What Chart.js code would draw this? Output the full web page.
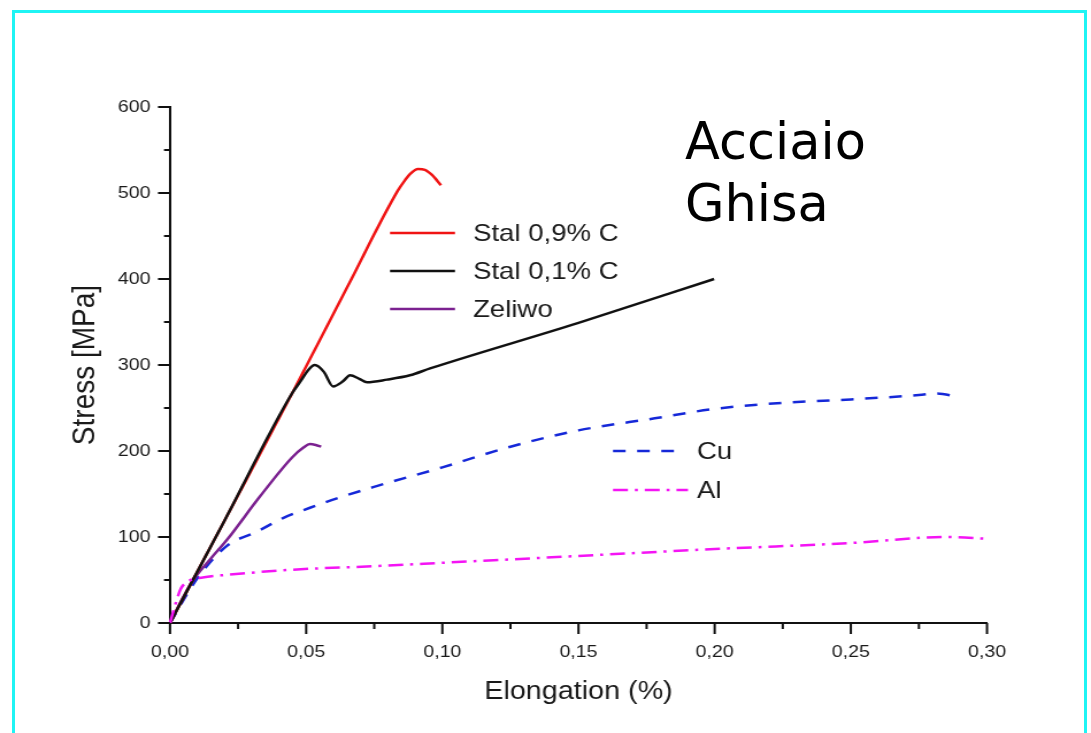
<!DOCTYPE html>
<html>
<head>
<meta charset="utf-8">
<script src="https://cdn.jsdelivr.net/npm/chart.js@4.4.1/dist/chart.umd.min.js"></script>
<style>
html, body { margin: 0; padding: 0; background: #fff; overflow: hidden; }
#wrap { position: relative; width: 1091px; height: 733px; }
#grafico { position: absolute; left: 0; top: 0; width: 1091px; height: 733px; }
#ramka { position: absolute; left: 12px; top: 10px; width: 1069px; height: 800px; border: 3px solid #1ff4f4; border-bottom: none; }
#napis { position: absolute; left: 685px; top: 111px; font-family: "DejaVu Sans"; font-size: 51px; line-height: 62px; color: #000; }
</style>
</head>
<body>
<div id="wrap">
  <canvas id="grafico" width="949" height="733" style="width:1091px;height:733px"></canvas>
  <div id="ramka"></div>
  <div id="napis">Acciaio<br>Ghisa</div>
</div>
<script>
// the scan is stretched sideways, so the canvas is drawn narrower and widened by css
var SX = 1091 / 949;

// Stal 0,9% C
var stal09X = [0, 0.02, 0.045, 0.065, 0.0837, 0.0863, 0.0881, 0.0911, 0.0936, 0.0962, 0.0995];
var stal09Y = [0, 119, 268, 390, 503, 515, 522, 528, 527, 521, 509];
// Stal 0,1% C
var stal01X = [0, 0.02, 0.045, 0.0477, 0.0507, 0.0532, 0.0565, 0.0599, 0.0635, 0.0661, 0.0695, 0.0723, 0.0797, 0.0881, 0.0955, 0.15, 0.1998];
var stal01Y = [0, 119, 268, 280, 294, 300, 292, 275, 281, 288, 284, 280, 283, 288, 296, 349, 400];
// Zeliwo
var zeliwoX = [0, 0.005, 0.0085, 0.015, 0.021, 0.033, 0.045, 0.049, 0.0514, 0.0535, 0.0555];
var zeliwoY = [0, 31, 50, 75, 97, 147, 193, 204, 208, 207, 205];
// Cu
var cuX = [0, 0.01, 0.021, 0.0318, 0.0415, 0.0514, 0.0613, 0.0746, 0.1, 0.125, 0.15, 0.178, 0.2, 0.225, 0.25, 0.275, 0.2816, 0.2893];
var cuY = [0, 52, 90, 106, 122, 134, 145, 158, 181, 205, 224, 238, 249, 256, 260, 265, 267, 263];
// Al
var alX = [0, 0.002, 0.004, 0.007, 0.012, 0.021, 0.045, 0.0746, 0.1, 0.15, 0.2, 0.25, 0.285, 0.3];
var alY = [0, 22, 40, 49, 53, 56, 62, 66, 70, 78, 86, 93, 100, 98];

var nazwy = ['Stal 0,9% C', 'Stal 0,1% C', 'Zeliwo', 'Cu', 'Al'];

var xTicks = [0, 0.05, 0.10, 0.15, 0.20, 0.25, 0.30];
var xTickLabels = ['0,00', '0,05', '0,10', '0,15', '0,20', '0,25', '0,30'];
var yTicks = [0, 100, 200, 300, 400, 500, 600];
var yTickLabels = ['0', '100', '200', '300', '400', '500', '600'];

function punkty(xs, ys) {
    return xs.map(function (x, i) { return { x: x, y: ys[i] }; });
}

function etykieta(lista, napisy) {
    return function (v) {
        for (var i = 0; i < lista.length; i++) {
            if (Math.abs(lista[i] - v) < 1e-6) return napisy[i];
        }
        return '';
    };
}

// order: lower number is painted on top
function seria(label, xs, ys, kolor, dash, kolejnosc) {
    return {
        label: label,
        data: punkty(xs, ys),
        borderColor: kolor,
        borderWidth: 2.5,
        borderDash: dash,
        pointRadius: 0,
        fill: false,
        clip: false,
        order: kolejnosc,
        cubicInterpolationMode: 'monotone'
    };
}

// legend places, in page pixels
var legendaPoz = [
    { x1: 390, x2: 455, tx: 473, y: 233 },
    { x1: 390, x2: 455, tx: 473, y: 271 },
    { x1: 390, x2: 455, tx: 473, y: 309 },
    { x1: 613, x2: 678, tx: 697, y: 451 },
    { x1: 613, x2: 688, tx: 697, y: 490 }
];

var kreski = {
    id: 'kreski',
    afterDraw: function (chart) {
        var ctx = chart.ctx;
        var xs = chart.scales.x, ys = chart.scales.y;
        ctx.save();
        ctx.strokeStyle = '#111';
        ctx.lineWidth = 2;
        ctx.beginPath();
        xs.ticks.forEach(function (t) {
            var p = xs.getPixelForValue(t.value);
            var len = t.label !== '' ? 11 : 6;
            ctx.moveTo(p, xs.top);
            ctx.lineTo(p, xs.top + len);
        });
        ys.ticks.forEach(function (t) {
            var p = ys.getPixelForValue(t.value);
            var len = (t.label !== '' ? 12 : 6) / SX;
            ctx.moveTo(ys.right, p);
            ctx.lineTo(ys.right - len, p);
        });
        ctx.stroke();

        // legend in two groups
        chart.data.datasets.forEach(function (ds, i) {
            var l = legendaPoz[i];
            ctx.beginPath();
            ctx.strokeStyle = ds.borderColor;
            ctx.lineWidth = ds.borderWidth;
            ctx.setLineDash(ds.borderDash || []);
            ctx.moveTo(l.x1 / SX, l.y);
            ctx.lineTo(l.x2 / SX, l.y);
            ctx.stroke();
            ctx.setLineDash([]);
            ctx.fillStyle = '#1a1a1a';
            ctx.font = '24px "Liberation Sans", Arial, sans-serif';
            ctx.textBaseline = 'middle';
            ctx.textAlign = 'left';
            ctx.fillText(ds.label, l.tx / SX, l.y + 1);
        });
        ctx.restore();
    }
};

var ctx = document.getElementById('grafico').getContext('2d');
var wykres = new Chart(ctx, {
    type: 'line',
    data: {
        datasets: [
            seria(nazwy[0], stal09X, stal09Y, '#f01414', [], 2),
            seria(nazwy[1], stal01X, stal01Y, '#111111', [], 1),
            seria(nazwy[2], zeliwoX, zeliwoY, '#7b2190', [], 3),
            seria(nazwy[3], cuX, cuY, '#1528d8', [11, 10], 4),
            seria(nazwy[4], alX, alY, '#f414f4', [13, 6, 2.6, 6], 0)
        ]
    },
    options: {
        responsive: false,
        devicePixelRatio: 1,
        animation: false,
        layout: { padding: { left: 0, right: 949 - 987 / SX, top: 107, bottom: 0 } },
        plugins: { legend: { display: false }, tooltip: { enabled: false } },
        scales: {
            x: {
                type: 'linear',
                min: 0,
                max: 0.3,
                grid: { display: false },
                border: { display: true, color: '#111', width: 2 },
                ticks: {
                    stepSize: 0.025,
                    autoSkip: false,
                    maxRotation: 0,
                    padding: 11,
                    color: '#1a1a1a',
                    font: { family: '"Liberation Sans", Arial, sans-serif', size: 17 },
                    callback: etykieta(xTicks, xTickLabels)
                },
                title: {
                    display: true,
                    text: 'Elongation (%)',
                    color: '#1a1a1a',
                    font: { family: '"Liberation Sans", Arial, sans-serif', size: 25 },
                    padding: { top: 0, bottom: 26 }
                },
                afterFit: function (s) { s.height = 110; }
            },
            y: {
                type: 'linear',
                min: 0,
                max: 600,
                grid: { display: false },
                border: { display: true, color: '#111', width: 2 },
                ticks: {
                    stepSize: 50,
                    autoSkip: false,
                    padding: 9,
                    color: '#1a1a1a',
                    font: { family: '"Liberation Sans", Arial, sans-serif', size: 17 },
                    callback: etykieta(yTicks, yTickLabels)
                },
                title: {
                    display: true,
                    text: 'Stress [MPa]',
                    color: '#1a1a1a',
                    font: { family: '"Liberation Sans", Arial, sans-serif', size: 28 },
                    padding: { top: 57, bottom: 0 }
                },
                afterFit: function (s) { s.width = 170 / SX; }
            }
        }
    },
    plugins: [kreski]
});
</script>
</body>
</html>
